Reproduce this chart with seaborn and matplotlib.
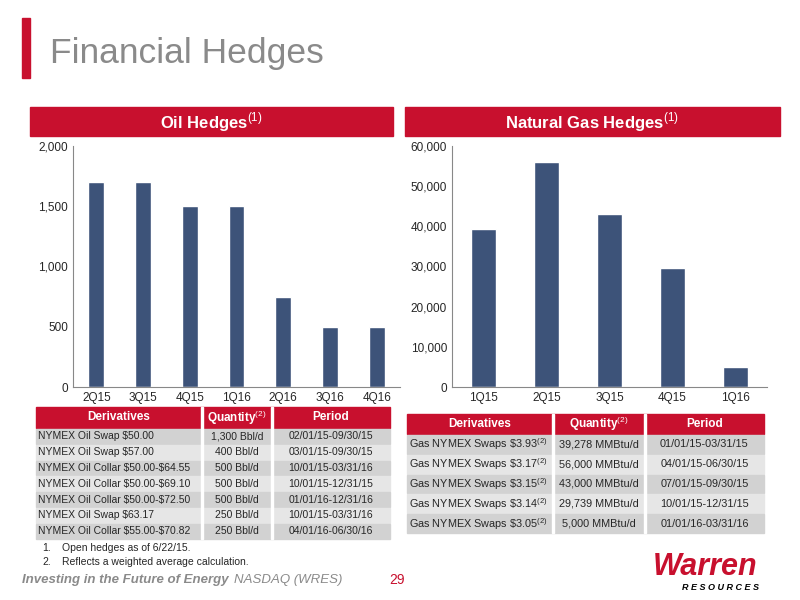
import matplotlib
matplotlib.use("Agg")
import matplotlib.pyplot as plt
import seaborn as sns
import pandas as pd
from matplotlib.patches import Rectangle
from matplotlib.ticker import FuncFormatter

oil_quarters = ["2Q15", "3Q15", "4Q15", "1Q16", "2Q16", "3Q16", "4Q16"]
oil_values = [1700, 1700, 1500, 1500, 750, 500, 500]
gas_quarters = ["1Q15", "2Q15", "3Q15", "4Q15", "1Q16"]
gas_values = [39278, 56000, 43000, 29739, 5000]

oil_deriv = [r"NYMEX Oil Swap \$50.00", r"NYMEX Oil Swap \$57.00", r"NYMEX Oil Collar \$50.00-\$64.55",
             r"NYMEX Oil Collar \$50.00-\$69.10", r"NYMEX Oil Collar \$50.00-\$72.50", r"NYMEX Oil Swap \$63.17",
             r"NYMEX Oil Collar \$55.00-\$70.82"]
oil_qty = ["1,300 Bbl/d", "400 Bbl/d", "500 Bbl/d", "500 Bbl/d", "500 Bbl/d", "250 Bbl/d", "250 Bbl/d"]
oil_period = ["02/01/15-09/30/15", "03/01/15-09/30/15", "10/01/15-03/31/16", "10/01/15-12/31/15",
              "01/01/16-12/31/16", "10/01/15-03/31/16", "04/01/16-06/30/16"]
gas_deriv = [r"Gas NYMEX Swaps \$3.93$^{(2)}$", r"Gas NYMEX Swaps \$3.17$^{(2)}$", r"Gas NYMEX Swaps \$3.15$^{(2)}$",
             r"Gas NYMEX Swaps \$3.14$^{(2)}$", r"Gas NYMEX Swaps \$3.05$^{(2)}$"]
gas_qty = ["39,278 MMBtu/d", "56,000 MMBtu/d", "43,000 MMBtu/d", "29,739 MMBtu/d", "5,000 MMBtu/d"]
gas_period = ["01/01/15-03/31/15", "04/01/15-06/30/15", "07/01/15-09/30/15", "10/01/15-12/31/15", "01/01/16-03/31/16"]

sns.set_style("white")
plt.rcParams['font.family'] = ['Liberation Sans', 'DejaVu Sans']
plt.rcParams['mathtext.fontset'] = 'custom'
plt.rcParams['mathtext.rm'] = 'Liberation Sans'
RED = "#C8102E"
NAVY = "#3D5379"
W, H = 800, 600
fig = plt.figure(figsize=(8, 6), dpi=100)

def px_ax(x0, y0, x1, y1):
    return fig.add_axes([x0 / W, 1 - y1 / H, (x1 - x0) / W, (y1 - y0) / H])

def rect(x0, y0, x1, y1, color):
    fig.patches.append(Rectangle((x0 / W, 1 - y1 / H), (x1 - x0) / W, (y1 - y0) / H,
                                 transform=fig.transFigure, color=color, zorder=0))

def text(x, y, s, **kw):
    fig.text(x / W, 1 - y / H, s, **kw)

rect(22, 18, 30, 78, RED)
text(50, 63, "Financial Hedges", fontsize=25.5, color="#8A8A8A")
rect(30, 107, 393, 136, RED)
text(211, 122, "Oil Hedges$^{(1)}$", fontsize=12, color="white", weight="bold", ha="center", va="center")
rect(405, 107, 780, 136, RED)
text(592, 122, "Natural Gas Hedges$^{(1)}$", fontsize=12, color="white", weight="bold", ha="center", va="center")

fmt = FuncFormatter(lambda v, p: f"{int(v):,}")
for (x0, x1, cats, vals, ymax, step, bw) in [(73, 400, oil_quarters, oil_values, 2000, 500, 0.34),
                                              (452, 767, gas_quarters, gas_values, 60000, 10000, 0.41)]:
    ax = px_ax(x0, 146, x1, 387)
    df = pd.DataFrame({"q": cats, "v": vals})
    sns.barplot(data=df, x="q", y="v", color=NAVY, width=bw, saturation=1, ax=ax)
    ax.set_ylim(0, ymax)
    ax.set_yticks(range(0, ymax + 1, step))
    ax.yaxis.set_major_formatter(fmt)
    ax.set_xlabel(""); ax.set_ylabel("")
    ax.tick_params(labelsize=8.5, length=0)
    for s in ["top", "right"]:
        ax.spines[s].set_visible(False)
    ax.spines["left"].set_color("#888888")
    ax.spines["bottom"].set_color("#888888")

def table(cols, top, hh, rh, rows, fs=8):
    rect(cols[0], top, cols[-1], top + hh, RED)
    heads = ["Derivatives", "Quantity$^{(2)}$", "Period"]
    for i, h in enumerate(heads):
        text((cols[i] + cols[i + 1]) / 2, top + hh / 2, h, color="white", weight="bold",
             fontsize=8.5, ha="center", va="center")
    for r, row in enumerate(rows):
        y0 = top + hh + r * rh
        rect(cols[0], y0 + 1, cols[-1], y0 + rh, "#D2D2D2" if r % 2 == 0 else "#E6E6E6")
        text(cols[0] + 2, y0 + rh / 2 + 0.5, row[0], fontsize=fs, ha="left", va="center")
        text((cols[1] + cols[2]) / 2, y0 + rh / 2 + 0.5, row[1], fontsize=fs, ha="center", va="center")
        text((cols[2] + cols[3]) / 2, y0 + rh / 2 + 0.5, row[2], fontsize=fs, ha="center", va="center")
    for c in cols[1:-1]:
        rect(c - 1, top, c + 1, top + hh + rh * len(rows), "white")

table([36, 202, 272, 390], 407, 21, 15.8, list(zip(oil_deriv, oil_qty, oil_period)), fs=7.5)
table([407, 553, 645, 764], 414, 20, 19.8, list(zip(gas_deriv, gas_qty, gas_period)), fs=7.8)

text(42, 548, "1.", fontsize=7.5, va="center"); text(62, 548, "Open hedges as of 6/22/15.", fontsize=7.5, va="center")
text(42, 562, "2.", fontsize=7.5, va="center"); text(62, 562, "Reflects a weighted average calculation.", fontsize=7.5, va="center")
text(22, 580, "Investing in the Future of Energy", fontsize=9.5, color="#8A8A8A", weight="bold", style="italic", va="center")
text(234, 580, "NASDAQ (WRES)", fontsize=9.5, color="#8A8A8A", style="italic", va="center")
text(389, 580, "29", fontsize=10, color=RED, va="center")
text(705, 575, "Warren", fontsize=22, color=RED, weight="bold", style="italic", ha="center")
text(720, 590, "R E S O U R C E S", fontsize=6.5, color="black", weight="bold", style="italic", ha="center")

fig.savefig("out.png", dpi=100)
